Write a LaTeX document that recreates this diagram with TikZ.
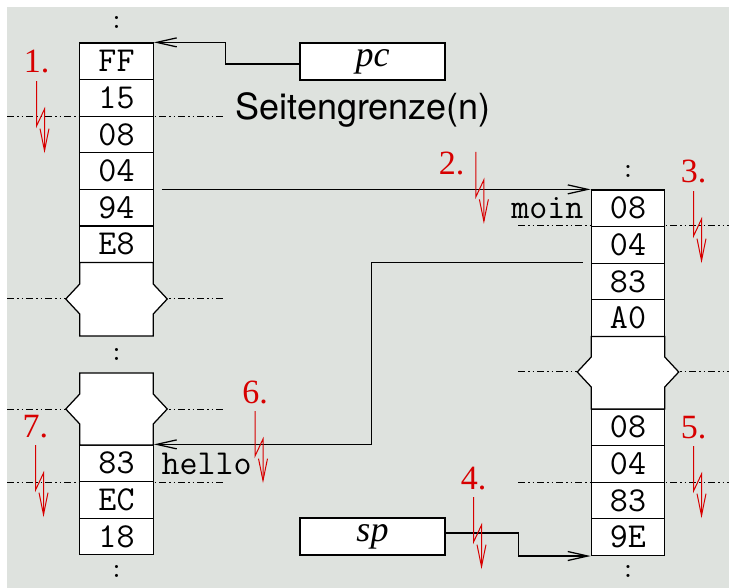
\documentclass[tikz,border=0pt]{standalone}
\usepackage{fontspec}
\setmainfont{Liberation Serif}
\newfontfamily\helvfont{TeX Gyre Heros}
\usetikzlibrary{arrows.meta, positioning, calc}
\definecolor{PageGray}{RGB}{222,226,222}
\definecolor{StepRed}{RGB}{215,0,0}

% gap in a memory column: left x, top, notch, bottom
\newcommand{\lueckebox}[4]{%
  \filldraw[fill=white] (#1,#2) -- (#1+73.5,#2) -- (#1+73.5,#3-15) -- (#1+87.5,#3)
    -- (#1+73.5,#3+15) -- (#1+73.5,#4) -- (#1,#4) -- (#1,#3+15) -- (#1-14,#3)
    -- (#1,#3-15) -- cycle;}
\newcommand{\blitz}[1]{\draw[blitzarrow] (#1) -- ++(0,45) -- ++(8,-17) -- ++(0,44);}

\begin{document}
\begin{tikzpicture}[x=1pt,y=-1pt,line width=1.25pt,
	cell/.style={draw,fill=white,minimum width=73.5pt,minimum height=36.6pt,inner sep=0pt,
		font=\ttfamily\fontsize{35}{35}\selectfont},
	reg/.style={draw,fill=white,minimum width=145pt,minimum height=37pt,inner sep=0pt,
		font=\itshape\fontsize{36}{36}\selectfont},
	tttext/.style={inner sep=0pt,font=\ttfamily\fontsize{35}{35}\selectfont},
	bound/.style={line width=1pt,dash pattern=on 7pt off 3pt on 1.5pt off 3pt on 1.5pt off 3pt},
	ptr/.style={-{Straight Barb[length=20pt,width=9pt]}},
	stepnum/.style={text=StepRed,inner sep=0pt,anchor=base,font=\fontsize{34}{34}\selectfont},
	blitzarrow/.style={draw=StepRed,line width=1pt,-{Straight Barb[length=22pt,width=9pt]}},
	dots/.style={inner sep=0pt,font=\ttfamily\fontsize{28}{28}\selectfont}]
\useasboundingbox (0,0) rectangle (729,588);
\fill[PageGray] (7,7) rectangle (729,588);
% page boundaries
\foreach \y in {117,299,409,482} \draw[bound] (7,\y) -- (225,\y);
\foreach \y in {226,372,482} \draw[bound] (518,\y) -- (729,\y);
% memory columns
\foreach \t [count=\i] in {FF,15,08,04,94,E8} \node[cell] (L\i) at (116.5,{43+36.6*(\i-0.5)}) {\t};
\foreach \t [count=\i] in {83,EC,18} \node[cell] (M\i) at (116.5,{445+36.6*(\i-0.5)}) {\t};
\foreach \t [count=\i] in {08,04,83,A0} \node[cell] (R\i) at (628,{190+36.6*(\i-0.5)}) {\t};
\foreach \t [count=\i] in {08,04,83,9E} \node[cell] (S\i) at (628,{409+36.6*(\i-0.5)}) {\t};
\lueckebox{79.75}{262.6}{299}{336}
\lueckebox{79.75}{373}{409}{445}
\lueckebox{591.25}{336.4}{372}{409}
\foreach \x/\y [count=\i] in {116.5/22,116.5/354,116.5/571,628/171,628/571} \node[dots] (d\i) at (\x,\y) {:};
% registers
\node[reg] (pc) at (372.5,61.5) {pc};
\node[reg] (sp) at (372.5,536.5) {sp};
\node[anchor=base west,inner sep=0pt,font=\helvfont\fontsize{36}{36}\selectfont] (grenze) at (235,120) {Seitengrenze(n)};
\node[tttext,anchor=base east] (moin) at (584,219) {moin};
\node[tttext,anchor=base west] (hello) at (161,474) {hello};
% pointers
\draw[ptr] ([yshift=-2.5pt]pc.west) -- ++(-74,0) |- (L1.north east);
\draw[ptr] ([xshift=8pt]R1.north west -| L5.east) -- (R1.north west);
\draw[ptr] ([xshift=-8pt]R3.north west) -- ++(-211,0) |- (M1.north east);
\draw[ptr] ([yshift=3.5pt]sp.east) -- ++(73,0) |- (S4.south west);
% steps
\foreach \n/\x/\y in {1/36.5/73,3/693.5/183,4/473.5/489,5/693.5/438,6/255/403,7/35.5/437}{
	\node[stepnum] (n\n) at (\x,\y) {\n.};
	\blitz{[yshift=-7pt]n\n.south}}
\node[stepnum] (n2) at (451.5,175) {2.};
\blitz{[xshift=11pt]n2.north east}
\end{tikzpicture}
\end{document}
